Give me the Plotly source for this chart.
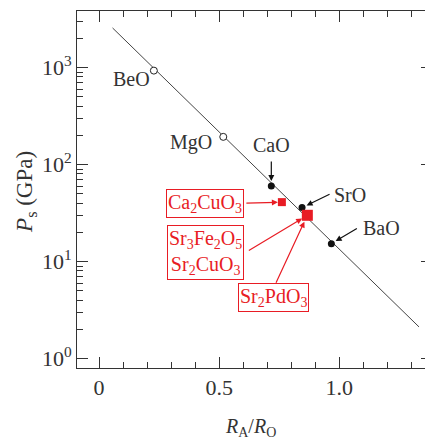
import math
import plotly.graph_objects as go

# ---- data ----
oxide_names = ["BeO", "MgO", "CaO", "SrO", "BaO"]
oxide_ratio = [0.228, 0.517, 0.717, 0.845, 0.967]
oxide_ps = [930, 193, 60, 36, 15.3]
oxide_open = [True, True, False, False, False]

compound_labels = ["Ca2CuO3", "Sr3Fe2O5 / Sr2CuO3 / Sr2PdO3"]
compound_ratio = [0.761, 0.867]
compound_ps = [41, 30]

fit_ratio = [0.056, 1.332]
fit_ps = [2560, 2.12]

x_tickvals = [0, 0.5, 1.0]
x_ticktext = ["0", "0.5", "1.0"]
y_tickvals = [1, 10, 100, 1000]
y_ticktext = ["10<sup>0</sup>", "10<sup>1</sup>", "10<sup>2</sup>", "10<sup>3</sup>"]

RED = "#e81c24"
DARK = "#333333"
FONT = "Liberation Serif, Times New Roman, serif"

# page body has an 8px default margin: compensate so the plot area lands where intended
OFF = 8

fig = go.Figure()

fig.add_trace(go.Scatter(x=fit_ratio, y=fit_ps, mode="lines",
                         line=dict(color="#444444", width=1), showlegend=False,
                         hoverinfo="skip"))

open_x = [x for x, o in zip(oxide_ratio, oxide_open) if o]
open_y = [y for y, o in zip(oxide_ps, oxide_open) if o]
fill_x = [x for x, o in zip(oxide_ratio, oxide_open) if not o]
fill_y = [y for y, o in zip(oxide_ps, oxide_open) if not o]

fig.add_trace(go.Scatter(x=open_x, y=open_y, mode="markers",
                         marker=dict(symbol="circle", size=7, color="white",
                                     line=dict(color="#222222", width=1)),
                         showlegend=False))
fig.add_trace(go.Scatter(x=fill_x, y=fill_y, mode="markers",
                         marker=dict(symbol="circle", size=7, color="#111111",
                                     line=dict(width=0)),
                         showlegend=False))
fig.add_trace(go.Scatter(x=compound_ratio, y=compound_ps, mode="markers",
                         marker=dict(symbol="square", size=[8, 11], color=RED,
                                     opacity=1, line=dict(width=0)),
                         showlegend=False))

ann = []
# oxide text labels (shift relative to each point, pixels; +y = up)
oxide_shift = {"BeO": (-22, -8), "MgO": (-32, -6), "CaO": (0, 41),
               "SrO": (48, 13), "BaO": (50, 16)}
for n, x, y in zip(oxide_names, oxide_ratio, oxide_ps):
    dx, dy = oxide_shift[n]
    ann.append(dict(x=x, y=math.log10(y), xref="x", yref="y", text=n, showarrow=False,
                    xanchor="center", yanchor="middle",
                    xshift=dx, yshift=dy, font=dict(family=FONT, size=20, color=DARK)))

# black arrows
oxide_arrow = {"CaO": (0, -26), "SrO": (29, -14), "BaO": (27, -16)}
for n, x, y in zip(oxide_names, oxide_ratio, oxide_ps):
    if n in oxide_arrow:
        ax, ay = oxide_arrow[n]
        ann.append(dict(x=x, y=math.log10(y), xref="x", yref="y", text="", showarrow=True,
                        ax=ax, ay=ay, arrowhead=2, arrowsize=1.0, arrowwidth=1.2,
                        arrowcolor="#111111", standoff=5))

# red boxed labels
red_boxes = [
    ("Ca<sub>2</sub>CuO<sub>3</sub>", 0, -77, 1),
    ("Sr<sub>3</sub>Fe<sub>2</sub>O<sub>5</sub><br>Sr<sub>2</sub>CuO<sub>3</sub>", 1, -102, 37),
    ("Sr<sub>2</sub>PdO<sub>3</sub>", 1, -34, 82),
]
for txt, i, dx, dy in red_boxes:
    ann.append(dict(x=compound_ratio[i], y=math.log10(compound_ps[i]), xref="x", yref="y",
                    text=txt, showarrow=False, xshift=dx, yshift=-dy,
                    xanchor="center", yanchor="middle",
                    bordercolor=RED, borderwidth=1, borderpad=1, bgcolor="white",
                    font=dict(family=FONT, size=20, color=RED)))

# red arrows
red_arrows = [(0, -37, 1, 4), (1, -60, 36, 6), (1, -32, 69, 7)]
for i, ax, ay, so in red_arrows:
    ann.append(dict(x=compound_ratio[i], y=math.log10(compound_ps[i]), xref="x", yref="y",
                    text="", showarrow=True, ax=ax, ay=ay, arrowhead=2, arrowsize=1.0,
                    arrowwidth=1.2, arrowcolor=RED, standoff=so))

# axis titles
ann.append(dict(x=0.489, y=-0.168, xref="paper", yref="paper", showarrow=False,
                xanchor="center", yanchor="middle",
                text="<i>R</i><sub>A</sub>/<i>R</i><sub>O</sub>",
                font=dict(family=FONT, size=20, color=DARK)))
ann.append(dict(x=-0.144, y=0.493, xref="paper", yref="paper", showarrow=False,
                xanchor="center", yanchor="middle",
                textangle=-90, text="<i>P</i><sub>s</sub> (GPa)",
                font=dict(family=FONT, size=23, color=DARK)))

fig.update_layout(
    width=433 - OFF, height=441 - OFF,
    margin=dict(l=77 - OFF, r=1, t=11 - OFF, b=73),
    paper_bgcolor="white", plot_bgcolor="white",
    annotations=ann,
    xaxis=dict(range=[-0.092, 1.386], tickmode="array", tickvals=x_tickvals,
               ticktext=x_ticktext, ticks="inside", ticklen=11, tickwidth=1,
               tickcolor=DARK, showline=True, linecolor=DARK, linewidth=1,
               mirror="allticks", showgrid=False, zeroline=False,
               tickfont=dict(family=FONT, size=22, color=DARK),
               minor=dict(ticks="inside", ticklen=6, tickwidth=1, tickcolor=DARK,
                          dtick=0.1, tick0=0, showgrid=False)),
    yaxis=dict(type="log", range=[-0.097, 3.583], tickmode="array",
               tickvals=y_tickvals, ticktext=y_ticktext, ticks="inside", ticklen=11,
               tickwidth=1, tickcolor=DARK, showline=True, linecolor=DARK, linewidth=1,
               mirror="allticks", showgrid=False, zeroline=False,
               tickfont=dict(family=FONT, size=22, color=DARK),
               minor=dict(ticks="inside", ticklen=6, tickwidth=1, tickcolor=DARK,
                          tickmode="array",
                          tickvals=[k * 10 ** d for d in range(0, 4) for k in range(2, 10)],
                          showgrid=False)),
)

fig.write_html("out.html")
